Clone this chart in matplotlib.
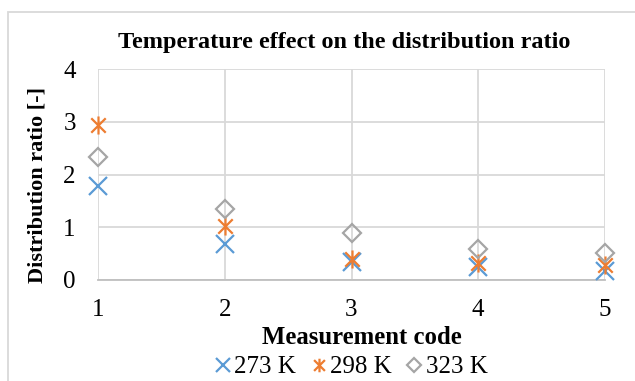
import matplotlib
matplotlib.use('Agg')
import matplotlib.pyplot as plt
from matplotlib.path import Path
from matplotlib.patches import Rectangle

# data
codes = [1, 2, 3, 4, 5]
ratio_273 = [1.78, 0.68, 0.35, 0.25, 0.17]
ratio_298 = [2.94, 1.02, 0.40, 0.33, 0.28]
ratio_323 = [2.33, 1.35, 0.89, 0.59, 0.51]
labels = ['273 K', '298 K', '323 K']

plt.rcParams['font.family'] = ['Liberation Serif', 'DejaVu Serif']

# excel style star: an x with a vertical bar
star = Path([(-1, -1), (1, 1), (-1, 1), (1, -1), (0, -1.25), (0, 1.25)],
            [Path.MOVETO, Path.LINETO, Path.MOVETO, Path.LINETO, Path.MOVETO, Path.LINETO])

fig = plt.figure(figsize=(6.35, 3.81), dpi=100)
ax = fig.add_axes([98/635, 1-280/381, (605-98)/635, (280-69)/381])

ax.plot(codes, ratio_273, linestyle='none', marker='x', ms=12.5, mew=1.6,
        color='#5b9bd5', label=labels[0], clip_on=False, zorder=3)
ax.plot(codes, ratio_298, linestyle='none', marker=star, ms=13, mew=1.6,
        color='#ed7d31', label=labels[1], clip_on=False, zorder=3)
ax.plot(codes, ratio_323, linestyle='none', marker='D', ms=9, mew=1.6,
        mfc='none', color='#a5a5a5', label=labels[2], clip_on=False, zorder=3)

ax.set_xlim(1, 5)
ax.set_ylim(0, 4)
ax.set_xticks(codes)
ax.set_yticks([0, 1, 2, 3, 4])
ax.grid(color='#d9d9d9', linewidth=1.3)
ax.set_axisbelow(True)
for s in ['top', 'right', 'left']:
    ax.spines[s].set_visible(False)
ax.spines['bottom'].set_color('#bfbfbf')
ax.spines['bottom'].set_linewidth(1.3)
ax.tick_params(length=0, labelsize=18)
ax.tick_params(axis='x', pad=14)
ax.tick_params(axis='y', pad=16)

ax.set_title('Temperature effect on the distribution ratio', fontsize=17.5,
             fontweight='bold', pad=15, x=0.485)
ax.set_xlabel('Measurement code', fontsize=17.8, fontweight='bold')
ax.xaxis.set_label_coords((362-98)/507, (280-338)/211)
ax.xaxis.label.set_va('center')
ax.set_ylabel('Distribution ratio [-]', fontsize=16, fontweight='bold')
ax.yaxis.set_label_coords((38-98)/507, (280-185)/211)
ax.yaxis.label.set_va('center')

ax.legend(loc='center', bbox_to_anchor=(0.5, (280-367)/211), ncol=3, frameon=False,
          fontsize=18, handlelength=0.6, handletextpad=0.15, columnspacing=0.6,
          markerscale=0.75, borderpad=0)

fig.patches.append(Rectangle((8/635, -0.05), 1.1, 1-12/381+0.05, transform=fig.transFigure,
                             fill=False, edgecolor='#d9d9d9', linewidth=1.3))

fig.savefig('out.png', dpi=100)
